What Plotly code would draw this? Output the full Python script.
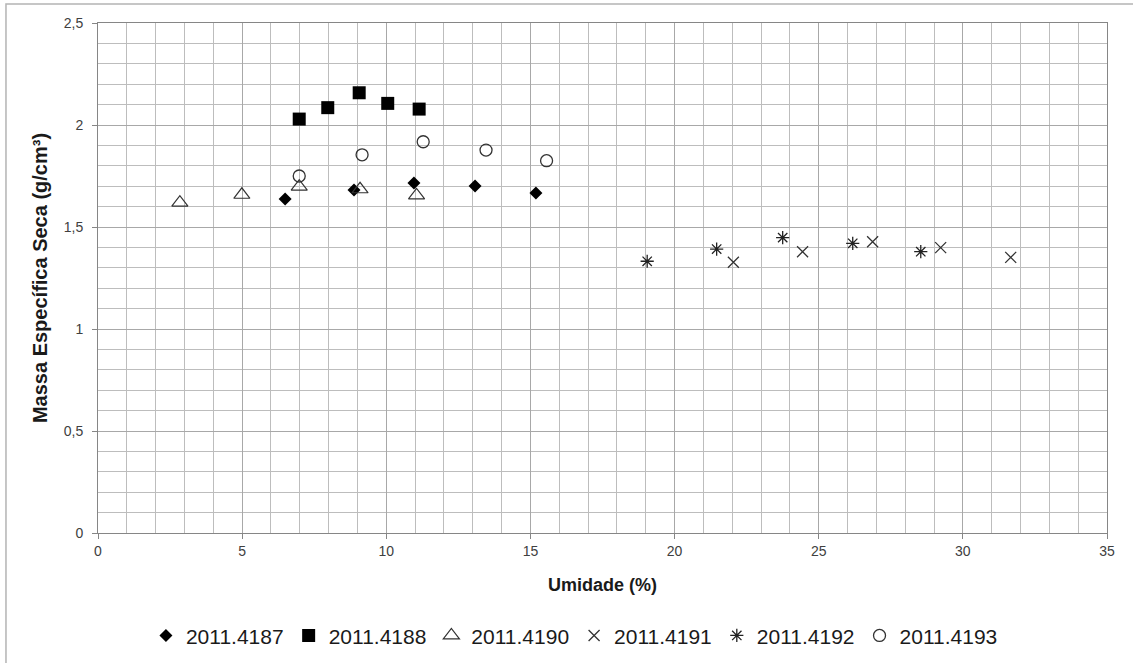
import plotly.graph_objects as go

# Umidade (%) e massa específica seca (g/cm³) de cada amostra
umid_4187 = [6.49, 8.88, 10.96, 13.08, 15.19]
mes_4187 = [1.637, 1.681, 1.716, 1.701, 1.667]

umid_4188 = [6.98, 7.97, 9.06, 10.05, 11.14]
mes_4188 = [2.029, 2.085, 2.158, 2.106, 2.078]

umid_4190 = [2.84, 4.99, 6.98, 9.09, 11.05]
mes_4190 = [1.619, 1.658, 1.698, 1.685, 1.655]

umid_4191 = [22.04, 24.44, 26.87, 29.23, 31.66]
mes_4191 = [1.327, 1.379, 1.428, 1.399, 1.351]

umid_4192 = [19.05, 21.46, 23.75, 26.18, 28.54]
mes_4192 = [1.332, 1.392, 1.448, 1.420, 1.379]

umid_4193 = [6.98, 9.16, 11.28, 13.46, 15.56]
mes_4193 = [1.750, 1.854, 1.918, 1.877, 1.825]

amostras = ["2011.4187", "2011.4188", "2011.4190", "2011.4191", "2011.4192", "2011.4193"]
umidades = [umid_4187, umid_4188, umid_4190, umid_4191, umid_4192, umid_4193]
massas = [mes_4187, mes_4188, mes_4190, mes_4191, mes_4192, mes_4193]

estilos = [
    dict(symbol="diamond", size=10, color="black"),
    dict(symbol="square", size=13, color="black"),
    dict(symbol="triangle-up-open", size=14, color="#333333", line=dict(width=1.2, color="#333333")),
    dict(symbol="x-thin-open", size=11, color="#333333", line=dict(width=1.3, color="#333333")),
    dict(symbol="asterisk-open", size=11, color="#222222", line=dict(width=1.3, color="#222222")),
    dict(symbol="circle-open", size=12, color="#333333", line=dict(width=1.3, color="#333333")),
]

fig = go.Figure()
for nome, xs, ys, mk in zip(amostras, umidades, massas, estilos):
    fig.add_trace(go.Scatter(x=xs, y=ys, mode="markers", name=nome, marker=mk))

grid_minor = "#bdbdbd"
grid_major = "#a8a8a8"
eixo = "#868686"
fonte = "Liberation Sans"

fig.update_layout(
    width=1133,
    height=663,
    margin=dict(l=98, r=26, t=23, b=130, autoexpand=False),
    paper_bgcolor="white",
    plot_bgcolor="white",
    separators=",.",
    font=dict(family=fonte, color="#333333"),
    showlegend=True,
    legend=dict(
        orientation="h",
        xref="container",
        yref="container",
        x=0.507,
        xanchor="center",
        y=0.041,
        yanchor="middle",
        font=dict(size=21, color="#1a1a1a", family=fonte),
        itemwidth=30,
        tracegroupgap=0,
    ),
    xaxis=dict(
        range=[0, 35],
        dtick=5,
        tick0=0,
        automargin=False,
        showgrid=True,
        gridcolor=grid_major,
        gridwidth=1,
        minor=dict(dtick=1, showgrid=True, gridcolor=grid_minor, gridwidth=1),
        showline=True,
        linecolor=eixo,
        linewidth=1,
        mirror=True,
        ticks="outside",
        ticklen=5,
        tickcolor=eixo,
        zeroline=False,
        tickfont=dict(size=14, color="#404040", family=fonte),
        title=dict(text="<b>Umidade (%)</b>", font=dict(size=18, color="#1a1a1a", family=fonte), standoff=20),
    ),
    yaxis=dict(
        range=[0, 2.5],
        dtick=0.5,
        tick0=0,
        automargin=False,
        showgrid=True,
        gridcolor=grid_major,
        gridwidth=1,
        minor=dict(dtick=0.1, showgrid=True, gridcolor=grid_minor, gridwidth=1),
        showline=True,
        linecolor=eixo,
        linewidth=1,
        mirror=True,
        ticks="outside",
        ticklen=5,
        tickcolor=eixo,
        zeroline=False,
        tickfont=dict(size=14, color="#404040", family=fonte),
        ticklabelstandoff=6,
        title=dict(text="<b>Massa Específica Seca (g/cm³)</b>", font=dict(size=20, color="#1a1a1a", family=fonte), standoff=10),
    ),
)

# moldura clara da área do gráfico
fig.add_shape(
    type="rect", xref="paper", yref="paper",
    x0=-0.0912, x1=1.05, y0=-0.30, y1=1.0373,
    line=dict(color="#b4b4b4", width=1.5),
    fillcolor="rgba(0,0,0,0)",
    layer="below",
)

fig.write_html("out.html")
